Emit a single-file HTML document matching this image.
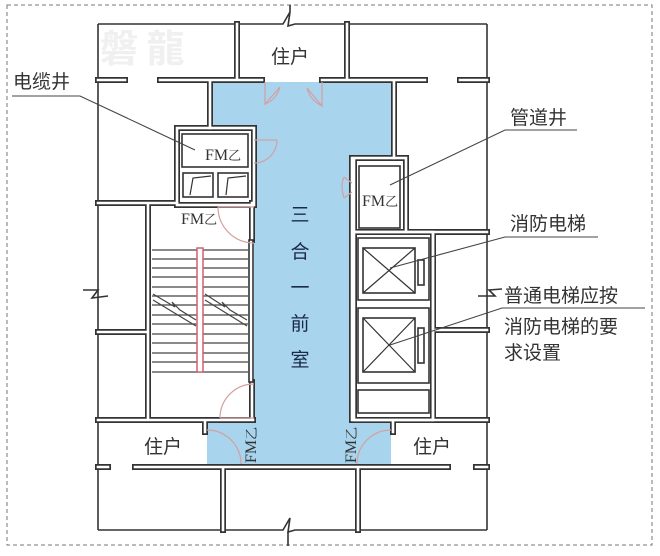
<!DOCTYPE html>
<html><head><meta charset="utf-8"><style>
html,body{margin:0;padding:0;background:#fff;}
svg{display:block;}
text{font-family:"Liberation Sans","Noto Sans CJK SC",sans-serif;fill:#333;}
.cn{font-family:"Noto Sans CJK SC",sans-serif;}
.fm{font-family:"Liberation Serif","Noto Serif CJK SC",serif;font-size:16px;fill:#333;}
</style></head><body>
<svg width="660" height="556" viewBox="0 0 660 556" xmlns="http://www.w3.org/2000/svg">
<rect x="7" y="5" width="645" height="540" fill="none" stroke="#777" stroke-width="1" stroke-dasharray="4,3"/>
<text x="100" y="62" class="cn" font-size="38" font-weight="bold" style="fill:#f0f0f0">磐 龍</text>
<polygon points="210,82 392,82 392,160 352,160 352,422 391,422 391,466 207,466 207,422 254,422 254,128 210,128" fill="#a8d4ee"/>
<g stroke="#333" stroke-width="1.6" fill="none">
<polyline points="98,24 283,24 290,12 288,26 295,24 487,24"/>
<line x1="98" y1="24" x2="98" y2="530"/>
<line x1="487" y1="24" x2="487" y2="530"/>
<polyline points="98,530 283,530 290,518 288,532 295,530 487,530"/>
<line x1="290" y1="5" x2="290" y2="12"/><line x1="288" y1="532" x2="288" y2="546"/>
<polyline points="83,290 98,290 92,298 108,296"/>
<polyline points="478,296 495,296 489,290 502,289"/>
</g>
<g fill="none" stroke-linecap="square">
<g stroke="#333" stroke-width="6">
<path d="M98,80H125M160,80H262M322,80H425M460,80H487M237,24V80M347,24V80M210,80V128M394,80V158M98,203H177M406,232H487M433,232V420M436,330H487M98,332H148M148,203V420M98,420H253M352,420H487M135,467H448M98,467H108M476,467H487M205,420V432M393,420V432M223,467V530M358,467V530M252,203V240M252,382V420M352,158V420"/>
<rect x="177" y="128" width="77" height="77"/>
<rect x="354" y="158" width="52" height="74"/>
<rect x="354" y="232" width="79" height="188"/>
</g>
<g stroke="#fff" stroke-width="2.6">
<path d="M98,80H125M160,80H262M322,80H425M460,80H487M237,24V80M347,24V80M210,80V128M394,80V158M98,203H177M406,232H487M433,232V420M436,330H487M98,332H148M148,203V420M98,420H253M352,420H487M135,467H448M98,467H108M476,467H487M205,420V432M393,420V432M223,467V530M358,467V530M252,203V240M252,382V420M352,158V420"/>
<rect x="177" y="128" width="77" height="77"/>
<rect x="354" y="158" width="52" height="74"/>
<rect x="354" y="232" width="79" height="188"/>
</g>
</g>
<g stroke="#333" stroke-width="1.6" fill="#fff">
<rect x="182" y="134" width="66" height="33"/>
<rect x="183" y="173" width="30" height="24"/>
<rect x="218" y="173" width="30" height="24"/>
<rect x="359" y="166" width="41" height="62"/>
<rect x="358" y="238" width="71" height="62"/>
<rect x="358" y="308" width="71" height="75"/>
<rect x="358" y="390" width="71" height="23"/>
<rect x="363" y="248" width="52" height="45"/>
<rect x="363" y="318" width="52" height="54"/>
<rect x="418" y="260" width="6" height="25"/>
<rect x="418" y="328" width="6" height="35"/>
<rect x="249" y="240" width="4" height="142"/>
</g>
<g stroke="#333" stroke-width="1.2" fill="none">
<path d="M363,248L415,293M415,248L363,293M363,318L415,372M415,318L363,372"/>
<path d="M190,195L193,178L211,176M226,195L228,178L246,176"/>
</g>
<g stroke="#444" stroke-width="1.2">
<path d="M152,250H248M152,259H248M152,268H248M152,277H248M152,287H248M152,296H248M152,305H248M152,315H248M152,324H248M152,334H248M152,343H248M152,353H248M152,362H248M152,372H248"/>
<path d="M153,294L175,307L172,302L180,310L196,320M205,294L225,307L222,302L230,310L247,320M153,300L196,326M205,300L247,326" fill="none"/>
</g>
<rect x="197" y="248" width="6" height="124" fill="#fff" stroke="#d06070" stroke-width="1.5"/>
<g stroke="#d4a0a0" stroke-width="1.2" fill="none">
<path d="M265,82V104L280,87M322,82V106L307,88M265,104Q276,100 280,87M322,106Q310,100 307,88"/>
<path d="M254,140H277M277,140A23,23 0 0 1 254,163"/>
<path d="M254,207H218M218,207A36,36 0 0 0 254,243"/>
<path d="M352,183L344,177M352,192L344,198M344,177Q340,185 344,198"/>
<path d="M254,418H220M220,418A34,34 0 0 1 254,384"/>
<path d="M207,430A34,34 0 0 1 241,464M391,430A34,34 0 0 0 357,464"/>
</g>
<g stroke="#444" stroke-width="1.1" fill="none">
<path d="M12,96H80L195,150M577,130H505L390,185M598,237H505L390,268M645,308H502L390,345"/>
</g>
<g class="cn" font-size="19">
<text x="13" y="88">电缆井</text>
<text x="510" y="124">管道井</text>
<text x="510" y="230">消防电梯</text>
<text x="504" y="302">普通电梯应按</text>
<text x="504" y="333">消防电梯的要</text>
<text x="504" y="359">求设置</text>
<text x="271" y="63">住户</text>
<text x="144" y="453">住户</text>
<text x="413" y="453">住户</text>
</g>
<g class="cn" font-size="19" text-anchor="middle" style="fill:#1a2a48">
<text x="300" y="221" style="fill:#1a2a48">三</text>
<text x="300" y="258" style="fill:#1a2a48">合</text>
<text x="300" y="294" style="fill:#1a2a48">一</text>
<text x="300" y="330" style="fill:#1a2a48">前</text>
<text x="300" y="366" style="fill:#1a2a48">室</text>
</g>
<text class="fm" x="205" y="160">FM<tspan font-size="13">乙</tspan></text>
<text class="fm" x="362" y="206">FM<tspan font-size="13">乙</tspan></text>
<text class="fm" x="181" y="224">FM<tspan font-size="13">乙</tspan></text>
<text class="fm" transform="translate(256,463) rotate(-90)">FM<tspan font-size="13">乙</tspan></text>
<text class="fm" transform="translate(356,463) rotate(-90)">FM<tspan font-size="13">乙</tspan></text>
</svg>
</body></html>
